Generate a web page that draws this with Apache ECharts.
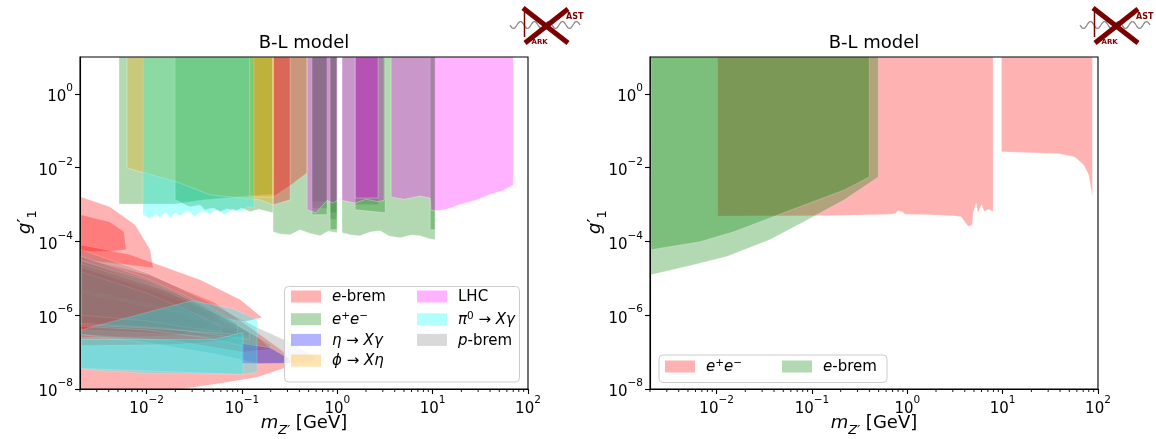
<!DOCTYPE html>
<html><head><meta charset="utf-8">
<script src="https://cdn.jsdelivr.net/npm/echarts@6/dist/echarts.min.js"></script>
<style>html,body{margin:0;padding:0;background:#fff}#c{width:1156px;height:439px}</style>
</head><body><div id="c"></div>
<script>
// ---------------- data (mass in GeV, coupling g'_1) ----------------
const xRange = [0.002, 100];
const yRange = [1e-8, 10];
const xTickExps = [-2, -1, 0, 1, 2];
const yTickExps = [-8, -6, -4, -2, 0];
const panelTitles = ['B-L model', 'B-L model'];

// left panel regions: e-brem beam dumps (low coupling)
const L_eBrem = [
  [[0.00205,3.6e-5],[0.0109,1.2e-5],[0.0509,2.2e-6],[0.144,3.4e-7],[0.27,1.04e-7],[0.327,5.6e-8],[0.27,3.6e-8],[0.144,2.07e-8],[0.0509,1.34e-8],[0.0219,9.8e-9],[0.0053,6.8e-9],[0.00205,5.3e-9]],
  [[0.00205,1.61e-3],[0.0041,8.7e-4],[0.0076,2.8e-4],[0.0109,6.0e-5],[0.0117,1.95e-5],[0.0067,2.3e-5],[0.0032,2.8e-5],[0.00205,3.2e-5]],
  [[0.00205,5.3e-4],[0.0041,3.4e-4],[0.0058,1.83e-4],[0.0061,6.0e-5],[0.0041,5.3e-5],[0.00205,5.3e-5]],
  [[0.00205,8.1e-5],[0.0067,4.4e-5],[0.0363,9.2e-6],[0.0955,2.65e-6],[0.1625,8.7e-7],[0.108,6.8e-7],[0.0363,1.05e-6],[0.0067,2.65e-6],[0.00205,4.95e-6]],
  [[0.00205,1.95e-5],[0.0109,5.6e-6],[0.0363,1.95e-6],[0.0618,8.7e-7],[0.041,4.65e-7],[0.0199,2.8e-7],[0.0053,2.5e-7],[0.00205,2.5e-7]],
  [[0.00205,4.0e-6],[0.02,1.2e-6],[0.06,5.0e-7],[0.1,3.0e-7],[0.06,2.0e-7],[0.02,1.6e-7],[0.00205,1.5e-7]],
  [[0.00205,2.0e-5],[0.03,2.0e-6],[0.08,5.0e-7],[0.12,3.0e-7],[0.08,2.5e-7],[0.02,3.0e-7],[0.00205,4.0e-7]],
  [[0.00205,3.0e-5],[0.02,4.0e-6],[0.07,8.0e-7],[0.15,2.5e-7],[0.2,1.2e-7],[0.1,1.0e-7],[0.02,2.0e-7],[0.00205,3.0e-7]]
];
// e-brem regions at high coupling
const L_eBremTop = [
  [[0.212,10],[0.212,1.61e-3],[0.32,3.2e-3],[0.482,7.2e-3],[0.482,10]],
  [[0.212,10],[0.212,9.8e-4],[0.32,1.34e-3],[0.32,10]]
];
const L_ee = [
  [[0.00513,10],[0.00513,1.04e-3],[0.0199,1.04e-3],[0.04,1.34e-3],[0.0867,1.61e-3],[0.1216,1.72e-3],[0.212,1.9e-3],[0.212,10]],
  [[0.0199,10],[0.0199,1.34e-3],[0.0253,1.0e-3],[0.0285,8.7e-4],[0.0363,9.8e-4],[0.041,7.2e-4],[0.05,8.1e-4],[0.0589,6.4e-4],[0.07,7.7e-4],[0.0867,6.8e-4],[0.1,8.1e-4],[0.1216,6.4e-4],[0.15,7.5e-4],[0.212,6.0e-4],[0.212,10]],
  [[0.212,10],[0.212,1.83e-4],[0.25,1.6e-4],[0.32,1.52e-4],[0.407,2.07e-4],[0.5,1.7e-4],[0.659,1.43e-4],[0.8,1.9e-4],[0.995,1.72e-4],[0.995,10]],
  [[1.12,10],[1.12,1.72e-4],[1.4,1.5e-4],[1.73,1.43e-4],[2.2,1.8e-4],[2.81,1.95e-4],[3.5,1.4e-4],[4.56,1.26e-4],[6,1.5e-4],[7.39,1.43e-4],[9,1.2e-4],[10.6,1.11e-4],[10.6,10]],
  [[0.543,10],[0.543,5.3e-4],[0.781,5.3e-4],[0.781,10]],
  [[0.84,10],[0.84,2.07e-4],[0.995,2.07e-4],[0.995,10]],
  [[1.54,10],[1.54,7.2e-4],[3.18,6.0e-4],[3.18,10]],
  [[9.42,10],[9.42,2.07e-4],[10.6,2.07e-4],[10.6,10]]
];
const L_eta = [
  [[0.1,1.7e-7],[0.2,1.3e-7],[0.3,7.0e-8],[0.3,5.0e-8],[0.15,4.8e-8],[0.1,5.0e-8]]
];
const L_phi = [
  [[0.00622,10],[0.00622,9.8e-3],[0.0208,4.1e-3],[0.0463,1.83e-3],[0.0955,1.52e-3],[0.155,1.34e-3],[0.212,9.8e-4],[0.212,10]],
  [[0.12,10],[0.12,1.6e-3],[0.212,1.6e-3],[0.212,10]]
];
const L_LHC = [
  [[0.482,10],[0.482,7.2e-4],[0.6,6.0e-4],[0.781,1.3e-3],[0.9,1.1e-3],[0.995,1.3e-3],[0.995,10]],
  [[1.12,10],[1.12,1.3e-3],[1.54,1.1e-3],[2.0,1.4e-3],[2.68,1.2e-3],[3.1,1.3e-3],[3.1,10]],
  [[3.67,10],[3.67,1.6e-3],[5,1.4e-3],[7.39,1.7e-3],[9.42,1.5e-3],[9.6,7.0e-4],[10.9,6.8e-4],[14,7.5e-4],[19.4,1.0e-3],[28,1.3e-3],[40.1,1.9e-3],[55,2.4e-3],[70,3.4e-3],[70,10]],
  [[1.54,10],[1.54,1.5e-3],[2.68,1.5e-3],[2.68,10]]
];
const L_pi0 = [
  [[0.00916,10],[0.00916,5.3e-4],[0.0109,4.1e-4],[0.0125,5.6e-4],[0.0138,4.4e-4],[0.0158,6.4e-4],[0.0176,4.4e-4],[0.02,6.0e-4],[0.0224,5.0e-4],[0.027,6.8e-4],[0.0322,4.8e-4],[0.038,6.6e-4],[0.0463,5.6e-4],[0.055,7.2e-4],[0.0664,5.3e-4],[0.08,7.7e-4],[0.0955,6.4e-4],[0.115,8.7e-4],[0.134,8.1e-4],[0.134,10]],
  [[0.00205,4.0e-7],[0.03,2.5e-6],[0.08,1.5e-6],[0.144,7.7e-7],[0.144,2.8e-8],[0.1026,2.5e-8],[0.0109,2.65e-8],[0.00205,3.4e-8]],
  [[0.00205,2.2e-7],[0.0509,2.2e-7],[0.1026,3.4e-7],[0.1026,2.5e-8],[0.0509,2.65e-8],[0.00205,3.6e-8]]
];
const L_pBrem = [
  [[0.00205,6.0e-5],[0.0109,1.3e-5],[0.0509,1.95e-6],[0.144,4.65e-7],[0.32,1.83e-7],[0.57,7.7e-8],[0.57,6.0e-8],[0.32,5.0e-8],[0.144,5.0e-8],[0.05,9.0e-8],[0.01,1.8e-7],[0.00205,3.0e-7]],
  [[0.00205,3.0e-5],[0.01,9.0e-6],[0.04,1.8e-6],[0.1,4.5e-7],[0.2,1.6e-7],[0.2,1.2e-7],[0.1,1.5e-7],[0.04,2.5e-7],[0.01,4.0e-7],[0.00205,5.0e-7]],
  [[0.00205,1.5e-5],[0.01,4.0e-6],[0.03,1.2e-6],[0.06,5.0e-7],[0.06,3.5e-7],[0.03,4.5e-7],[0.01,7.0e-7],[0.00205,1.0e-6]],
  [[0.00205,2.5e-5],[0.015,5.0e-6],[0.05,1.2e-6],[0.12,3.5e-7],[0.12,2.2e-7],[0.05,3.0e-7],[0.015,4.5e-7],[0.00205,6.0e-7]],
  [[0.00205,4.0e-5],[0.01,1.0e-5],[0.04,2.0e-6],[0.09,6.0e-7],[0.09,3.0e-7],[0.04,3.5e-7],[0.01,4.5e-7],[0.00205,5.5e-7]],
  [[0.543,10],[0.543,8.0e-4],[0.781,8.0e-4],[0.781,10]],
  [[0.543,10],[0.543,1.2e-3],[0.781,1.2e-3],[0.781,10]],
  [[0.84,10],[0.84,4.0e-4],[0.995,4.0e-4],[0.995,10]],
  [[0.84,10],[0.84,6.0e-4],[0.995,6.0e-4],[0.995,10]],
  [[1.54,10],[1.54,1.0e-3],[2.68,1.0e-3],[2.68,10]]
];

// right panel regions
const R_ee = [
  [[0.01028,10],[0.01028,4.9e-4],[0.1,5.0e-4],[0.3,5.2e-4],[0.6,5.4e-4],[0.748,5.6e-4],[0.8,6.8e-4],[0.885,6.4e-4],[0.95,5.5e-4],[1.7,5.3e-4],[3.0,5.0e-4],[3.67,4.7e-4],[4.0,3.4e-4],[4.35,2.6e-4],[4.79,2.8e-4],[4.9,6.0e-4],[5.27,1.1e-3],[5.5,6.0e-4],[6.0,1.0e-3],[6.39,6.6e-4],[7.2,7.5e-4],[7.93,6.4e-4],[7.93,10]],
  [[9.72,10],[9.72,0.027],[38.9,0.024],[57.2,0.0195],[71,0.0118],[80,6.3e-3],[87.3,1.66e-3],[87.3,10]]
];
const R_eBrem = [
  [[0.00205,10],[0.497,10],[0.497,5.6e-3],[0.219,1.34e-3],[0.0899,3.9e-4],[0.036,1.11e-4],[0.01276,3.9e-5],[0.0052,2.2e-5],[0.00205,1.26e-5]],
  [[0.00205,10],[0.4,10],[0.4,5.6e-3],[0.219,2.5e-3],[0.0741,8.7e-4],[0.01513,1.83e-4],[0.00667,9.8e-5],[0.00205,6.0e-5]]
];

// ---------------- styling ----------------
const FONT = "'DejaVu Sans', sans-serif";
const GRIDS = [{left:80, top:57, width:448, height:332}, {left:650, top:57, width:448, height:332}];
const COL = {
  red:'rgba(255,0,0,0.3)', green:'rgba(0,128,0,0.3)', blue:'rgba(0,0,255,0.3)',
  orange:'rgba(255,165,0,0.3)', magenta:'rgba(255,0,255,0.3)', cyan:'rgba(0,255,255,0.3)', gray:'rgba(128,128,128,0.3)'
};
const lg = Math.log10;

function polySeries(name, polys, color, gi, stroke) {
  return {
    type:'custom', name, xAxisIndex: gi, yAxisIndex: gi, clip:true, silent:true, animation:false, z:2,
    data: polys.map((p,i)=>[lg(p[0][0]), lg(p[0][1]), i]),
    renderItem: (params, api) => {
      const poly = polys[api.value(2)];
      const pts = poly.map(([m,g]) => api.coord([lg(m), lg(g)]));
      return {type:'polygon', shape:{points:pts}, style:{fill:color, stroke:stroke, lineWidth:0.9}};
    }
  };
}

// minor ticks of the log axis (2..9 x 10^n), drawn through the axis scale
const minorExps = [];
for (let e = -3; e <= 1; e++) for (let k = 2; k <= 9; k++) {
  const v = lg(k * Math.pow(10, e));
  if (v > lg(xRange[0]) - 1e-9 && v < lg(xRange[1])) minorExps.push(v);
}
function minorTickSeries(gi) {
  return {
    type:'custom', xAxisIndex:gi, yAxisIndex:gi, clip:false, silent:true, animation:false, z:10,
    data: minorExps.map(v => [v, lg(yRange[0])]),
    renderItem: (params, api) => {
      const p = api.coord([api.value(0), api.value(1)]);
      return {type:'line', shape:{x1:p[0], y1:p[1], x2:p[0], y2:p[1] + 3}, style:{stroke:'#000', lineWidth:0.9}};
    }
  };
}

function supTxt(n){ return n < 0 ? '\u2212' + (-n) : String(n); }
function powLabel(v){ const n = Math.round(v); return '{b|10}{s|' + supTxt(n) + '}'; }
const tickRich = {
  b:{fontFamily:FONT, fontSize:15, color:'#000', lineHeight:22, verticalAlign:'bottom'},
  s:{fontFamily:FONT, fontSize:10.5, color:'#000', lineHeight:8, verticalAlign:'top'}
};
const nameRich = {
  m:{fontFamily:FONT, fontSize:18, fontStyle:'italic', fill:'#000', lineHeight:23, verticalAlign:'top'},
  g:{fontFamily:FONT, fontSize:18, fill:'#000', lineHeight:23, verticalAlign:'top'},
  z:{fontFamily:FONT, fontSize:13, fontStyle:'italic', fill:'#000', lineHeight:23, verticalAlign:'bottom'},
  n:{fontFamily:FONT, fontSize:13, fill:'#000', lineHeight:23, verticalAlign:'bottom'}
};

function mainX(g){
  return {type:'value', gridIndex:g, min:lg(xRange[0]), max:lg(xRange[1]), position:'bottom',
    axisLine:{show:true, onZero:false, lineStyle:{color:'#000', width:1.1}},
    axisTick:{show:true, customValues:xTickExps, length:5, lineStyle:{color:'#000', width:1.1}},
    axisLabel:{customValues:xTickExps, formatter:powLabel, rich:tickRich, margin:6, verticalAlign:'top'},
    splitLine:{show:false}};
}
function mainY(g){
  return {type:'value', gridIndex:g, min:lg(yRange[0]), max:lg(yRange[1]), interval:2,
    axisLine:{show:true, onZero:false, lineStyle:{color:'#000', width:1.1}},
    axisTick:{show:true, customValues:yTickExps, length:5, lineStyle:{color:'#000', width:1.1}},
    axisLabel:{customValues:yTickExps, formatter:powLabel, rich:tickRich, margin:7, verticalAlign:'middle'},
    splitLine:{show:false}};
}

const legRich = {
  i:{fontFamily:FONT, fontSize:15, fontStyle:'italic', color:'#000', lineHeight:17, verticalAlign:'bottom'},
  n:{fontFamily:FONT, fontSize:15, color:'#000', lineHeight:17, verticalAlign:'bottom'},
  u:{fontFamily:FONT, fontSize:10.5, color:'#000', lineHeight:6, verticalAlign:'top'}
};
const LABELS = {
  'L_eb':'{i|e}{n|-brem}', 'L_ee':'{i|e}{u|+}{i|e}{u|\u2212}', 'L_eta':'{i|\u03b7}{n| \u2192 }{i|X\u03b3}',
  'L_phi':'{i|\u03d5}{n| \u2192 }{i|X\u03b7}', 'L_lhc':'{n|LHC}', 'L_pi0':'{i|\u03c0}{u|0}{n| \u2192 }{i|X\u03b3}',
  'L_pb':'{i|p}{n|-brem}', 'R_ee':'{i|e}{u|+}{i|e}{u|\u2212}', 'R_eb':'{i|e}{n|-brem}'
};
function legItem(name, color){ return {name, icon:'rect', itemStyle:{color, borderWidth:0}}; }
const legBase = {
  itemWidth:30, itemHeight:12, selectedMode:false, orient:'vertical', itemGap:5.7, padding:0, z:5,
  formatter:n => LABELS[n],
  textStyle:{fontFamily:FONT, fontSize:15, color:'#000', padding:[0,0,0,6], rich:legRich}
};

function logo(ox){
  const pts = [];
  for (let i = 0; i <= 70; i++) pts.push([ox + 2 + i, 25 + 3.5*Math.sin(i*2*Math.PI/14)]);
  const red = '#7a0000';
  return {type:'group', silent:true, z:60, children:[
    {type:'polyline', z:60, shape:{points:pts}, style:{stroke:'#8c8c8c', lineWidth:1.3, fill:null}},
    {type:'line', z:61, shape:{x1:ox+15, y1:8, x2:ox+60, y2:43}, style:{stroke:red, lineWidth:5}},
    {type:'line', z:61, shape:{x1:ox+60, y1:9, x2:ox+17, y2:43}, style:{stroke:red, lineWidth:5}},
    {type:'line', z:61, shape:{x1:ox+16.5, y1:12, x2:ox+16.5, y2:37}, style:{stroke:red, lineWidth:1.5}},
    {type:'text', z:62, x:ox+58, y:17, style:{text:'AST', fill:red, fontSize:8, fontWeight:'bold', fontFamily:FONT, align:'left', verticalAlign:'middle'}},
    {type:'text', z:62, x:ox+23.5, y:42, style:{text:'ARK', fill:red, fontSize:7, fontWeight:'bold', fontFamily:FONT, align:'left', verticalAlign:'middle'}}
  ]};
}

const strokeL = 'rgba(255,255,255,0.35)';
const strokeLow = 'rgba(255,255,255,0.2)';
const strokeR = 'rgba(255,255,255,0.25)';

const option = {
  backgroundColor:'#fff',
  animation:false,
  grid: GRIDS.map(g => Object.assign({containLabel:false, show:false}, g)),
  xAxis:[mainX(0), mainX(1)],
  yAxis:[mainY(0), mainY(1)],
  legend:[
    Object.assign({}, legBase, {left:291, top:290, data:[legItem('L_eb',COL.red), legItem('L_ee',COL.green), legItem('L_eta',COL.blue), legItem('L_phi',COL.orange)]}),
    Object.assign({}, legBase, {left:417, top:290, data:[legItem('L_lhc',COL.magenta), legItem('L_pi0',COL.cyan), legItem('L_pb',COL.gray)]}),
    Object.assign({}, legBase, {left:665, top:358, orient:'horizontal', itemGap:40, data:[legItem('R_ee',COL.red), legItem('R_eb',COL.green)]})
  ],
  series:[
    polySeries('L_eb', L_eBrem, COL.red, 0, strokeLow),
    polySeries('L_pb', L_pBrem, COL.gray, 0, strokeLow),
    polySeries('L_ee', L_ee, COL.green, 0, strokeL),
    polySeries('L_eb_top', L_eBremTop, COL.red, 0, strokeL),
    polySeries('L_phi', L_phi, COL.orange, 0, strokeL),
    polySeries('L_lhc', L_LHC, COL.magenta, 0, strokeL),
    polySeries('L_eta', L_eta, COL.blue, 0, strokeLow),
    polySeries('L_pi0', L_pi0, COL.cyan, 0, strokeLow),
    polySeries('R_ee', R_ee, COL.red, 1, strokeR),
    polySeries('R_eb', R_eBrem, COL.green, 1, strokeR),
    minorTickSeries(0), minorTickSeries(1)
  ],
  graphic:[
    // legend frames
    {type:'rect', z:3, silent:true, shape:{x:284.5, y:286.5, width:235, height:95.5, r:4},
      style:{fill:'rgba(255,255,255,0.8)', stroke:'#cccccc', lineWidth:1}},
    {type:'rect', z:3, silent:true, shape:{x:659, y:355, width:228, height:27.5, r:4},
      style:{fill:'rgba(255,255,255,0.8)', stroke:'#cccccc', lineWidth:1}},
    // titles
    ...GRIDS.map((g,i) => ({type:'text', x:g.left + g.width/2, y:43, z:60,
      style:{text:panelTitles[i], fill:'#000', fontSize:18, fontFamily:FONT, align:'center', verticalAlign:'middle'}})),
    // axis names
    ...GRIDS.map(g => ({type:'text', x:g.left + g.width/2, y:426, z:60,
      style:{text:'{m|m}{z|Z\u2032}{g| [GeV]}', rich:nameRich, align:'center', verticalAlign:'middle'}})),
    ...GRIDS.map(g => ({type:'text', x:g.left - 52, y:222, z:60, rotation:Math.PI/2,
      style:{text:'{m|g}{g|\u2032}{n|1}', rich:nameRich, align:'center', verticalAlign:'middle'}})),
    // frames
    ...GRIDS.map(g => ({type:'rect', z:55, silent:true, shape:{x:g.left, y:g.top, width:g.width, height:g.height},
      style:{fill:null, stroke:'#000', lineWidth:1.1}})),
    logo(GRIDS[0].left + GRIDS[0].width - 20),
    logo(GRIDS[1].left + GRIDS[1].width - 20)
  ]
};

const chart = echarts.init(document.getElementById('c'), null, {renderer:'canvas'});
chart.setOption(option);
</script></body></html>
